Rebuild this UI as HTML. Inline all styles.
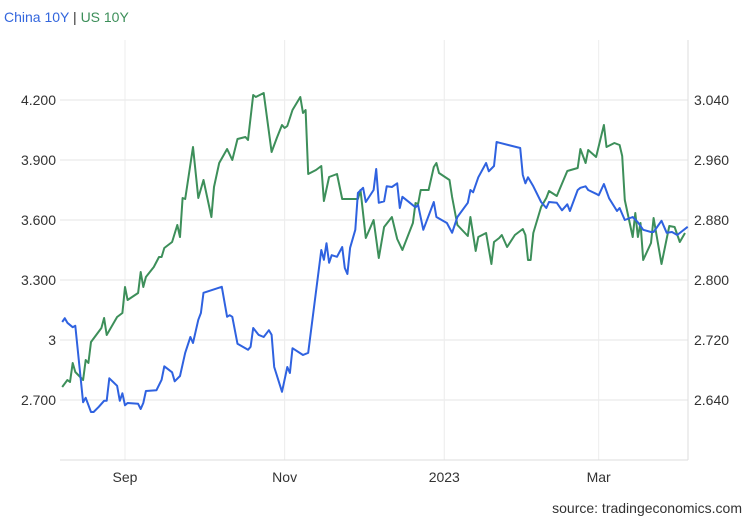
<!DOCTYPE html>
<html><head><meta charset="utf-8"><style>
body{margin:0;background:#fff;font-family:"Liberation Sans",sans-serif}
svg text{font-family:"Liberation Sans",sans-serif}
</style></head><body>
<svg id="chart" width="750" height="520" xmlns="http://www.w3.org/2000/svg">
<text x="4" y="22" font-size="14"><tspan fill="#3366dd">China 10Y</tspan><tspan fill="#333"> | </tspan><tspan fill="#3d8f5a">US 10Y</tspan></text>
<g id="grid"></g>
<g id="axes"></g>
<g id="series"></g>
<text x="742" y="513" font-size="14" text-anchor="end" fill="#333">source: tradingeconomics.com</text>
</svg>
<script>
const leftTicks=[4.2,3.9,3.6,3.3,3.0,2.7];
const leftTickLabels=["4.200","3.900","3.600","3.300","3","2.700"];
const rightTicks=[3.04,2.96,2.88,2.80,2.72,2.64];
const rightTickLabels=["3.040","2.960","2.880","2.800","2.720","2.640"];
const xTickDays=[0,61,122,181];
const xTickLabels=["Sep","Nov","2023","Mar"];
const usDays=[-24,-22,-21,-20,-19,-16,-15,-14,-13,-9,-8,-7,-3,-1,0,1,5,6,7,8,11,13,14,15,18,20,21,22,23,26,28,30,33,34,36,39,41,43,46,47,49,50,53,56,58,60,61,62,64,67,68,69,70,73,75,76,78,81,83,89,90,92,95,97,99,102,104,106,110,111,112,113,116,118,119,120,124,125,127,131,132,134,135,138,140,141,143,144,146,149,152,153,154,155,156,159,161,162,165,169,173,174,176,177,180,183,184,187,189,190,191,194,195,196,197,198,201,202,205,208,210,212,214];
const usValues=[2.765,2.80,2.79,2.885,2.84,2.80,2.90,2.885,2.99,3.06,3.11,3.025,3.115,3.135,3.265,3.20,3.235,3.34,3.265,3.315,3.365,3.415,3.415,3.46,3.49,3.575,3.515,3.71,3.705,3.965,3.71,3.80,3.615,3.765,3.885,3.955,3.90,4.005,4.015,4.00,4.225,4.215,4.235,3.94,4.01,4.075,4.06,4.07,4.15,4.215,4.135,4.15,3.83,3.85,3.87,3.695,3.815,3.83,3.705,3.705,3.75,3.51,3.60,3.41,3.565,3.615,3.505,3.45,3.585,3.685,3.68,3.75,3.75,3.865,3.885,3.835,3.80,3.715,3.575,3.52,3.615,3.445,3.515,3.535,3.38,3.49,3.51,3.525,3.465,3.525,3.555,3.525,3.40,3.40,3.535,3.665,3.71,3.745,3.72,3.845,3.86,3.955,3.885,3.95,3.915,4.075,3.965,3.985,3.975,3.92,3.70,3.515,3.635,3.515,3.585,3.40,3.485,3.61,3.38,3.57,3.565,3.49,3.535];
const cnDays=[-24,-23,-22,-20,-19,-16,-15,-13,-12,-10,-8,-7,-6,-3,-2,-1,0,1,5,6,7,8,12,14,15,18,19,21,23,25,26,28,29,30,37,39,40,41,43,47,48,49,51,53,55,56,57,60,62,63,64,68,70,75,76,77,78,79,81,83,84,85,86,88,89,91,92,95,96,97,99,100,102,104,105,106,111,112,114,118,119,123,125,127,131,132,133,135,138,139,141,142,143,151,152,153,154,156,159,161,162,165,167,169,170,173,174,176,177,180,181,183,185,188,189,191,194,196,198,201,202,205,207,209,211,215];
const cnValues=[2.744,2.749,2.743,2.737,2.739,2.637,2.643,2.624,2.624,2.631,2.639,2.639,2.669,2.659,2.639,2.649,2.633,2.636,2.635,2.628,2.636,2.652,2.653,2.667,2.685,2.677,2.665,2.672,2.703,2.724,2.716,2.747,2.756,2.783,2.791,2.751,2.753,2.751,2.715,2.707,2.711,2.736,2.727,2.724,2.733,2.727,2.684,2.651,2.684,2.676,2.709,2.700,2.703,2.84,2.827,2.849,2.823,2.833,2.831,2.844,2.816,2.808,2.843,2.867,2.916,2.923,2.904,2.920,2.948,2.903,2.905,2.925,2.924,2.929,2.896,2.911,2.897,2.900,2.867,2.904,2.884,2.876,2.863,2.884,2.903,2.920,2.917,2.937,2.956,2.945,2.952,2.984,2.983,2.976,2.940,2.929,2.937,2.925,2.904,2.896,2.904,2.903,2.893,2.901,2.892,2.920,2.923,2.925,2.920,2.915,2.913,2.928,2.909,2.892,2.896,2.880,2.884,2.877,2.867,2.864,2.864,2.879,2.863,2.864,2.860,2.871];

const NS="http://www.w3.org/2000/svg";
const X0=60,X1=688,Y0=40,Y1=460;
const xScale=d=>125+d*2.617;
const yLeft=v=>100+(4.2-v)/0.3*60;
const yRight=v=>100+(3.04-v)/0.08*60;
function mk(tag,attrs,parent){const e=document.createElementNS(NS,tag);for(const k in attrs)e.setAttribute(k,attrs[k]);parent.appendChild(e);return e;}
const grid=document.getElementById('grid'),axes=document.getElementById('axes'),series=document.getElementById('series');
leftTicks.forEach((v,i)=>{
  const y=yLeft(v);
  const l=mk('line',{x1:X0,x2:X1,y1:y,y2:y,stroke:'#e6e6e6','stroke-width':1},grid);
  
  
  const t=mk('text',{x:56,y:y+5,'font-size':14,'text-anchor':'end',fill:'#333'},axes);
  t.textContent=leftTickLabels[i];
  
  
});
rightTicks.forEach((v,i)=>{
  const y=yRight(v);
  const t=mk('text',{x:694,y:y+5,'font-size':14,fill:'#333'},axes);
  t.textContent=rightTickLabels[i];
  
  
});
xTickDays.forEach((d,i)=>{
  const x=xScale(d);
  const l=mk('line',{x1:x,x2:x,y1:Y0,y2:Y1,stroke:'#ececec','stroke-width':1},grid);
  
  
  const t=mk('text',{x:x,y:482,'font-size':14,'text-anchor':'middle',fill:'#333'},axes);
  t.textContent=xTickLabels[i];
  
  
});
const ax=mk('line',{x1:X0,x2:X1,y1:Y1,y2:Y1,stroke:'#ddd'},axes);


const ra=mk('line',{x1:X1,x2:X1,y1:Y0,y2:Y1,stroke:'#ddd'},axes);


function path(days,vals,ys){return days.map((d,i)=>(i?'L':'M')+xScale(d).toFixed(1)+','+ys(vals[i]).toFixed(1)).join('');}
const us=mk('path',{d:path(usDays,usValues,yLeft),fill:'none',stroke:'#3d8f5a','stroke-width':2,'stroke-linejoin':'round'},series);


const cn=mk('path',{d:path(cnDays,cnValues,yRight),fill:'none',stroke:'#2f62e0','stroke-width':2,'stroke-linejoin':'round'},series);


</script>
</body></html>
